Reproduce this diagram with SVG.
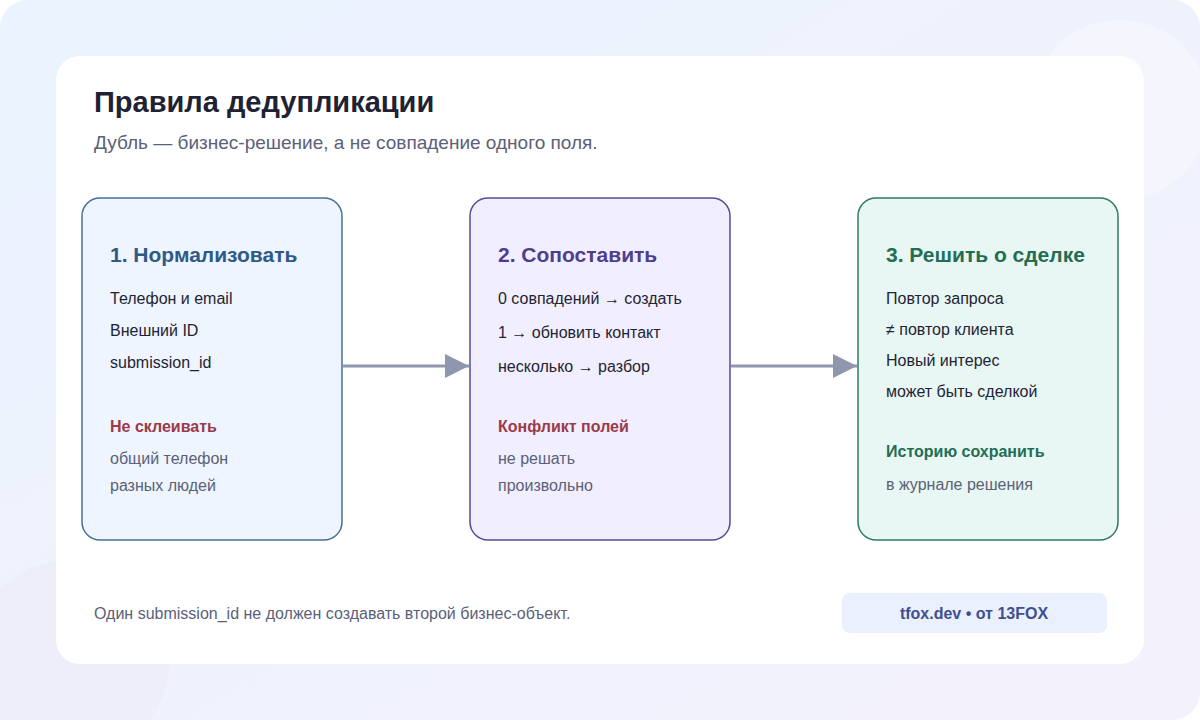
<svg xmlns="http://www.w3.org/2000/svg" width="1200" height="720" viewBox="0 0 1200 720">
<defs>
<linearGradient id="bg" x1="0" y1="0" x2="1" y2="1"><stop offset="0" stop-color="#eaf3fe"/><stop offset="1" stop-color="#f3f1fc"/></linearGradient>
<marker id="ah" markerWidth="24" markerHeight="24" refX="24" refY="12" orient="auto" markerUnits="userSpaceOnUse"><path d="M0,0 L24,12 L0,24 Z" fill="#8e97ad"/></marker>
<style>
text{font-family:"Liberation Sans",Arial,sans-serif}
.h{font-size:21px;font-weight:bold}
.b{font-size:16px;fill:#1f2433}
.w{font-size:16px;font-weight:bold}
.s{font-size:16px;fill:#5a6178}
.c{stroke:#8e97ad;stroke-width:3;fill:none}
</style>
</defs>
<rect width="1200" height="720" rx="28" fill="url(#bg)"/>
<circle cx="1120" cy="110" r="90" fill="#f5f5fd"/>
<circle cx="70" cy="660" r="100" fill="#eeeefb"/>
<rect x="56" y="56" width="1088" height="608" rx="24" fill="#ffffff"/>
<text x="94" y="112" font-size="29" font-weight="bold" fill="#1e2233">Правила дедупликации</text>
<text x="94" y="149" font-size="19" fill="#5a6178">Дубль — бизнес-решение, а не совпадение одного поля.</text>
<g id="connectors">
<line class="c" x1="343" y1="366" x2="469" y2="366" marker-end="url(#ah)"/>
<line class="c" x1="731" y1="366" x2="857" y2="366" marker-end="url(#ah)"/>
</g>
<g id="n1">
<rect x="82" y="198" width="260" height="342" rx="18" fill="#eef5fe" stroke="#4a6f98" stroke-width="1.5"/>
<text x="110" y="262" class="h" fill="#2f5a88">1. Нормализовать</text>
<text x="110" y="304" class="b">Телефон и email</text>
<text x="110" y="336" class="b">Внешний ID</text>
<text x="110" y="368" class="b">submission_id</text>
<text x="110" y="432" class="w" fill="#9b3a48">Не склеивать</text>
<text x="110" y="464" class="s">общий телефон</text>
<text x="110" y="491" class="s">разных людей</text>
</g>
<g id="n2">
<rect x="470" y="198" width="260" height="342" rx="18" fill="#f1efff" stroke="#5a4a96" stroke-width="1.5"/>
<text x="498" y="262" class="h" fill="#4f3e8e">2. Сопоставить</text>
<text x="498" y="304" class="b">0 совпадений → создать</text>
<text x="498" y="338" class="b">1 → обновить контакт</text>
<text x="498" y="372" class="b">несколько → разбор</text>
<text x="498" y="432" class="w" fill="#9b3a48">Конфликт полей</text>
<text x="498" y="464" class="s">не решать</text>
<text x="498" y="491" class="s">произвольно</text>
</g>
<g id="n3">
<rect x="858" y="198" width="260" height="342" rx="18" fill="#e8f7f3" stroke="#2f7a62" stroke-width="1.5"/>
<text x="886" y="262" class="h" fill="#236d55">3. Решить о сделке</text>
<text x="886" y="304" class="b">Повтор запроса</text>
<text x="886" y="335" class="b">≠ повтор клиента</text>
<text x="886" y="366" class="b">Новый интерес</text>
<text x="886" y="397" class="b">может быть сделкой</text>
<text x="886" y="457" class="w" fill="#236d55">Историю сохранить</text>
<text x="886" y="490" class="s">в журнале решения</text>
</g>
<text x="94" y="619" font-size="16" fill="#5a6178">Один submission_id не должен создавать второй бизнес-объект.</text>
<rect x="842" y="593" width="265" height="40" rx="8" fill="#eaf0fd"/>
<text x="974" y="619" text-anchor="middle" font-size="16" font-weight="bold" fill="#3f4f8e">tfox.dev • от 13FOX</text>
</svg>
